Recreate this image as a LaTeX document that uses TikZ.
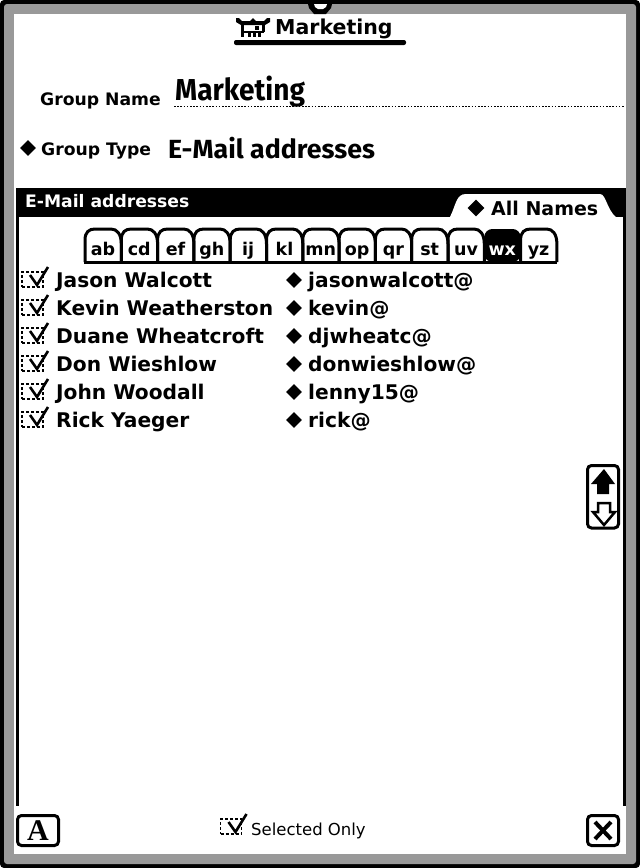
\documentclass[tikz,border=0pt]{standalone}
\usepackage{graphicx}
\usepackage{fontspec}
\setmainfont{DejaVu Sans}
\newfontfamily\handfont{Fira Sans}
\newfontfamily\serifbold{Liberation Serif}
\definecolor{framegray}{gray}{0.6}
\tikzset{
  rowtext/.style={anchor=base west, inner sep=0pt, font=\fontsize{20.2}{24}\bfseries\selectfont},
  labeltext/.style={anchor=base west, inner sep=0pt, font=\fontsize{17.2}{20}\bfseries\selectfont},
  handtext/.style={anchor=base west, inner sep=0pt},
  tabtext/.style={anchor=base, inner sep=0pt, font=\fontsize{17.5}{22}\bfseries\selectfont},
  dmark/.style={diamond, fill=black, inner sep=0pt, minimum width=16pt, minimum height=16pt},
  buttonbox/.style={draw, line width=3pt, rounded corners=4pt, fill=white},
  checkbox/.style={draw, dash pattern=on 3pt off 2pt, line width=1.9pt, inner sep=0pt, minimum width=21pt, minimum height=15pt}
}
\usetikzlibrary{shapes.geometric}
\begin{document}
\begin{tikzpicture}[x=1pt, y=-1pt]
  \useasboundingbox (0,0) rectangle (640,868);

  % Frame
  \fill[white] (0,0) rectangle (640,868);
  \fill[black, rounded corners=4pt] (0,0) rectangle (640,868);
  \fill[framegray, rounded corners=3pt] (4,4) rectangle (636,864);
  \fill[white] (14,14) rectangle (626,854);

  % Notch at the top
  \fill[black] (307,0) -- (333,0) -- (331,8) -- (326,14) -- (314,14) -- (309,8) -- cycle;
  \fill[white] (314,4) -- (327,4) -- (326,7) -- (323,9) -- (318,9) -- (315,7) -- cycle;

  % Title icon
  \fill[black] (236,22) -- (236,18) -- (239,18) -- (242,21) -- (250,21) -- (253,18) -- (256,21) -- (264,21) -- (267,18) -- (270,18) -- (270,22) -- (265,25) -- (241,25) -- cycle;
  \draw[line width=3pt] (242.5,25) -- (242.5,37);
  \draw[line width=3pt] (263,25) -- (263,32);
  \fill[black] (255,26) rectangle (259,30);
  \fill[black] (244,31) rectangle (264,33);
  \foreach \x in {248,253,258} { \fill[black] (\x,33) rectangle (\x+2.5,37); }

  % Title
  \node[anchor=base west, inner sep=0pt, font=\fontsize{20.5}{24}\bfseries\selectfont] (title) at (275,34) {Marketing};
  \fill[black, rounded corners=2pt] (234,40) rectangle (406,45);

  % Group name
  \node[labeltext] (namelabel) at (40,105) {Group Name};
  \node[handtext] (namevalue) at (175,100) {\handfont\bfseries\fontsize{27}{30}\selectfont\scalebox{1.04}[1.12]{Marketing}};
  \draw[line width=1.6pt, dash pattern=on 1.6pt off 1.6pt] (174,106.5) -- (624,106.5);

  % Group type
  \node[dmark] (typemark) at (28,148) {};
  \node[labeltext] (typelabel) at (41,155) {Group Type};
  \node[handtext] (typevalue) at (168,158) {\handfont\bfseries\fontsize{25}{30}\selectfont\scalebox{1.07}[1.05]{E-Mail addresses}};

  % Address panel
  \fill[black] (16,188) rectangle (626,217);
  \fill[black] (16,217) rectangle (19,806);
  \fill[black] (623,217) rectangle (626,806);
  \fill[white] (450,217) .. controls (456,205) and (456,194) .. (466,194) -- (600,194)
    .. controls (606,194) and (607,210) .. (616,217) -- cycle;
  \node[labeltext, text=white] (paneltitle) at (25,207) {E-Mail addresses};
  \node[dmark, minimum width=17pt, minimum height=17pt] (allmark) at (476,208) {};
  \node[rowtext, font=\fontsize{19}{25}\bfseries\selectfont] (allnames) at (491,215) {All Names};

  % Letter tabs
  \foreach \tabname [count=\i from 0] in {ab,cd,ef,gh,ij,kl,mn,op,qr,st,uv,wx,yz} {
    \pgfmathsetmacro{\tabx}{85+36.3*\i}
    \ifnum\i=11
      \fill[black, rounded corners=8pt] (\tabx,262) -- (\tabx,229) -- (\tabx+36.3,229) -- (\tabx+36.3,262) -- cycle;
      \node[tabtext, text=white] (tab\i) at (\tabx+18,255) {\tabname};
    \else
      \draw[line width=3pt] (\tabx,262) -- (\tabx,240) .. controls (\tabx,232) and (\tabx+4,229) .. (\tabx+10,229)
        -- (\tabx+26,229) .. controls (\tabx+32,229) and (\tabx+36.3,234) .. (\tabx+36.3,244) -- (\tabx+36.3,262);
      \node[tabtext] (tab\i) at (\tabx+18,255) {\tabname};
    \fi
  }
  \draw[line width=3pt] (84,262.5) -- (557,262.5);

  % Name rows
  \foreach \name/\mail [count=\i from 0] in {Jason Walcott/jasonwalcott@, Kevin Weatherston/kevin@,
      Duane Wheatcroft/djwheatc@, Don Wieshlow/donwieshlow@, John Woodall/lenny15@, Rick Yaeger/rick@} {
    \pgfmathsetmacro{\rowy}{280+28*\i}
    \node[checkbox] (check\i) at (32.5,\rowy-0.5) {};
    \draw[line width=2.6pt] (30,\rowy-5) -- (37,\rowy+5) -- (48,\rowy-13);
    \node[rowtext] (name\i) at (56,\rowy+7) {\name};
    \node[dmark] (mark\i) at (294,\rowy) {};
    \node[rowtext] (mail\i) at (308,\rowy+7) {\mail};
  }

  % Scroll arrows
  \draw[buttonbox] (587.5,465.5) rectangle (618.5,528);
  \fill[black] (604,469) -- (615,484) -- (609,484) -- (609,494) -- (597,494) -- (597,484) -- (591,484) -- cycle;
  \draw[line width=2.5pt, fill=white] (598,503) -- (610,503) -- (610,512) -- (615,512) -- (604,525) -- (593,512) -- (598,512) -- cycle;

  % Bottom buttons
  \node[buttonbox, minimum width=41pt, minimum height=30pt, inner sep=0pt,
    font=\fontsize{30}{32}\serifbold\bfseries\selectfont] (abutton) at (38,830.5) {A};
  \node[buttonbox, minimum width=31pt, minimum height=30pt, inner sep=0pt] (xbutton) at (603,830.5) {};
  \draw[line width=4pt] (595,822) -- (611,839);
  \draw[line width=4pt] (611,822) -- (595,839);

  % Selected only
  \node[checkbox] (selcheck) at (231,826.5) {};
  \draw[line width=2.6pt] (228.5,822) -- (235.5,832) -- (246.5,814);
  \node[anchor=base west, inner sep=0pt, font=\fontsize{16.5}{20}\selectfont] (seltext) at (251,835) {Selected Only};

\end{tikzpicture}
\end{document}
